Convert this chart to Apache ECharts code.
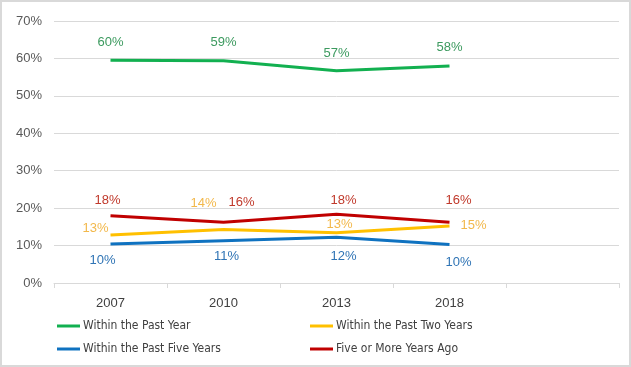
<!DOCTYPE html>
<html><head><meta charset="utf-8">
<script src="https://cdn.jsdelivr.net/npm/echarts@6/dist/echarts.min.js"></script>
<style>html,body{margin:0;padding:0;background:#fff}#c{width:631px;height:367px;box-sizing:border-box;border:2px solid #d9d9d9}</style>
</head><body><div id="c"></div>
<script>
const categories = ['2007', '2010', '2013', '2018', ''];
const pastYear = [59.5, 59.4, 56.7, 58.0];
const pastTwoYears = [12.8, 14.3, 13.4, 15.2];
const pastFiveYears = [10.4, 11.3, 12.2, 10.3];
const fiveOrMore = [18.0, 16.2, 18.4, 16.2];
const yTicks = [0, 10, 20, 30, 40, 50, 60, 70];

const greenOff = [[0,-18],[0,-18],[0,-17],[0,-18]];
const yellowOff = [[-15,-7],[-20,-26],[3,-8],[24,-1]];
const blueOff = [[-8,16],[3,16],[7,19],[9,18]];
const redOff = [[-3,-15],[18,-20],[7,-14],[9,-22]];

const narrow = "'Liberation Sans Narrow', 'DejaVu Sans Condensed', 'Roboto', sans-serif";

function mk(name, data, color, labelColor, offs) {
  return {
    name, type: 'line', data: data.map((v, i) => ({
      value: v,
      label: { offset: offs[i] }
    })),
    smooth: false, symbol: 'circle', symbolSize: 0.01, showSymbol: true,
    lineStyle: { color, width: 3 }, itemStyle: { color },
    label: {
      show: true, position: 'inside', color: labelColor,
      fontFamily: 'Liberation Sans', fontSize: 13,
      formatter: p => Math.round(p.value) + '%'
    },
    emphasis: { disabled: true }
  };
}

const chart = echarts.init(document.getElementById('c'));
chart.setOption({
  animation: false,
  grid: { left: 52, right: 10, top: 19, bottom: 82 },
  legend: [
    { left: 50, top: 313, orient: 'vertical', itemGap: 11, itemWidth: 23, itemHeight: 3, icon: 'rect',
      textStyle: { fontFamily: narrow, fontSize: 12, color: '#404040', padding: [0,0,0,-2] },
      data: ['Within the Past Year', 'Within the Past Five Years'] },
    { left: 303, top: 313, orient: 'vertical', itemGap: 11, itemWidth: 23, itemHeight: 3, icon: 'rect',
      textStyle: { fontFamily: narrow, fontSize: 12, color: '#404040', padding: [0,0,0,-2] },
      data: ['Within the Past Two Years', 'Five or More Years Ago'] }
  ],
  xAxis: {
    type: 'category', data: categories, boundaryGap: true,
    axisLine: { lineStyle: { color: '#d9d9d9' } },
    axisTick: { show: true, length: 5, lineStyle: { color: '#d9d9d9' } },
    axisLabel: { color: '#404040', fontFamily: 'Liberation Sans', fontSize: 13, margin: 14 }
  },
  yAxis: {
    type: 'value', min: yTicks[0], max: yTicks[yTicks.length - 1], interval: 10,
    axisLine: { show: false }, axisTick: { show: false },
    splitLine: { lineStyle: { color: '#d9d9d9' } },
    axisLabel: { color: '#595959', fontFamily: 'Liberation Sans', fontSize: 13, margin: 12, formatter: v => v + '%' }
  },
  series: [
    mk('Within the Past Year', pastYear, '#12b050', '#3c9a5f', greenOff),
    mk('Within the Past Two Years', pastTwoYears, '#ffc000', '#f2b84b', yellowOff),
    mk('Within the Past Five Years', pastFiveYears, '#0f72c0', '#2f74b5', blueOff),
    mk('Five or More Years Ago', fiveOrMore, '#c00000', '#c0392b', redOff)
  ]
});
</script></body></html>
